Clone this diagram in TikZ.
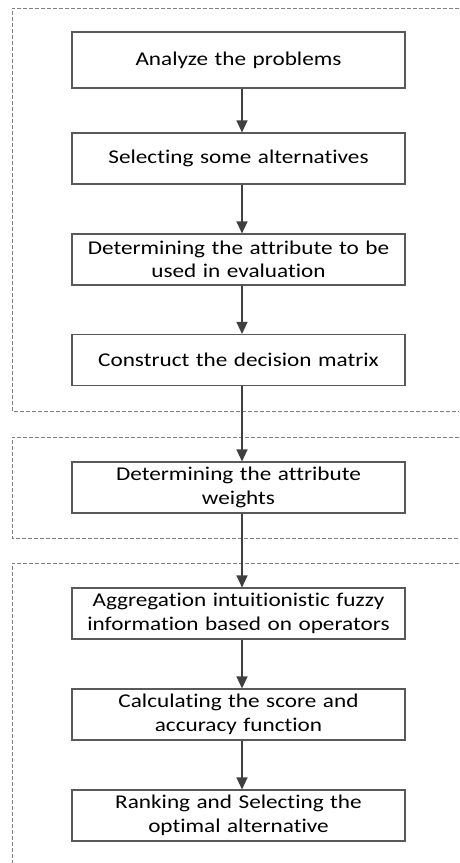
\documentclass[tikz,border=0pt]{standalone}
\usepackage{fontspec}
\setmainfont{Carlito}[FakeStretch=1.19, Ligatures=NoCommon]
\usetikzlibrary{arrows.meta}
\begin{document}
\begin{tikzpicture}[x=1pt,y=-1pt,
  stepbox/.style={draw=black!65, line width=1.1pt, minimum width=333pt, minimum height=51pt,
    align=center, font=\fontsize{19.5}{23.5}\selectfont, inner sep=2pt, text width=325pt},
  flow/.style={draw=black!65, line width=1.1pt, -{Triangle[width=11pt,length=12pt]}, black!75},
  group/.style={draw=black!50, line width=0.9pt, dash pattern=on 4pt off 2pt}]
\useasboundingbox (0,0) rectangle (459,863);
\node[stepbox, minimum height=56pt] (n1) at (238.5,60) {Analyze the problems};
\node[stepbox] (n2) at (238.5,158.5) {Selecting some alternatives};
\node[stepbox] (n3) at (238.5,259.5) {Determining the attribute to be\\used in evaluation};
\node[stepbox] (n4) at (238.5,360) {Construct the decision matrix};
\node[stepbox] (n5) at (238.5,487.5) {Determining the attribute\\weights};
\node[stepbox] (n6) at (238.5,613.5) {Aggregation intuitionistic fuzzy\\information based on operators};
\node[stepbox] (n7) at (238.5,714.5) {Calculating the score and\\accuracy function};
\node[stepbox] (n8) at (238.5,815.5) {Ranking and Selecting the\\optimal alternative};
\draw[group] (459,8) -- (12,8) -- (12,411) -- (459,411);
\draw[group] (459,437) -- (12,437) -- (12,538) -- (459,538);
\draw[group] (459,563) -- (12,563) -- (12,863);
\foreach \a/\b in {n1/n2,n2/n3,n3/n4,n4/n5,n5/n6,n6/n7,n7/n8}
  \draw[flow] ([xshift=3.5pt]\a.south) -- ([xshift=3.5pt]\b.north);
\end{tikzpicture}
\end{document}
